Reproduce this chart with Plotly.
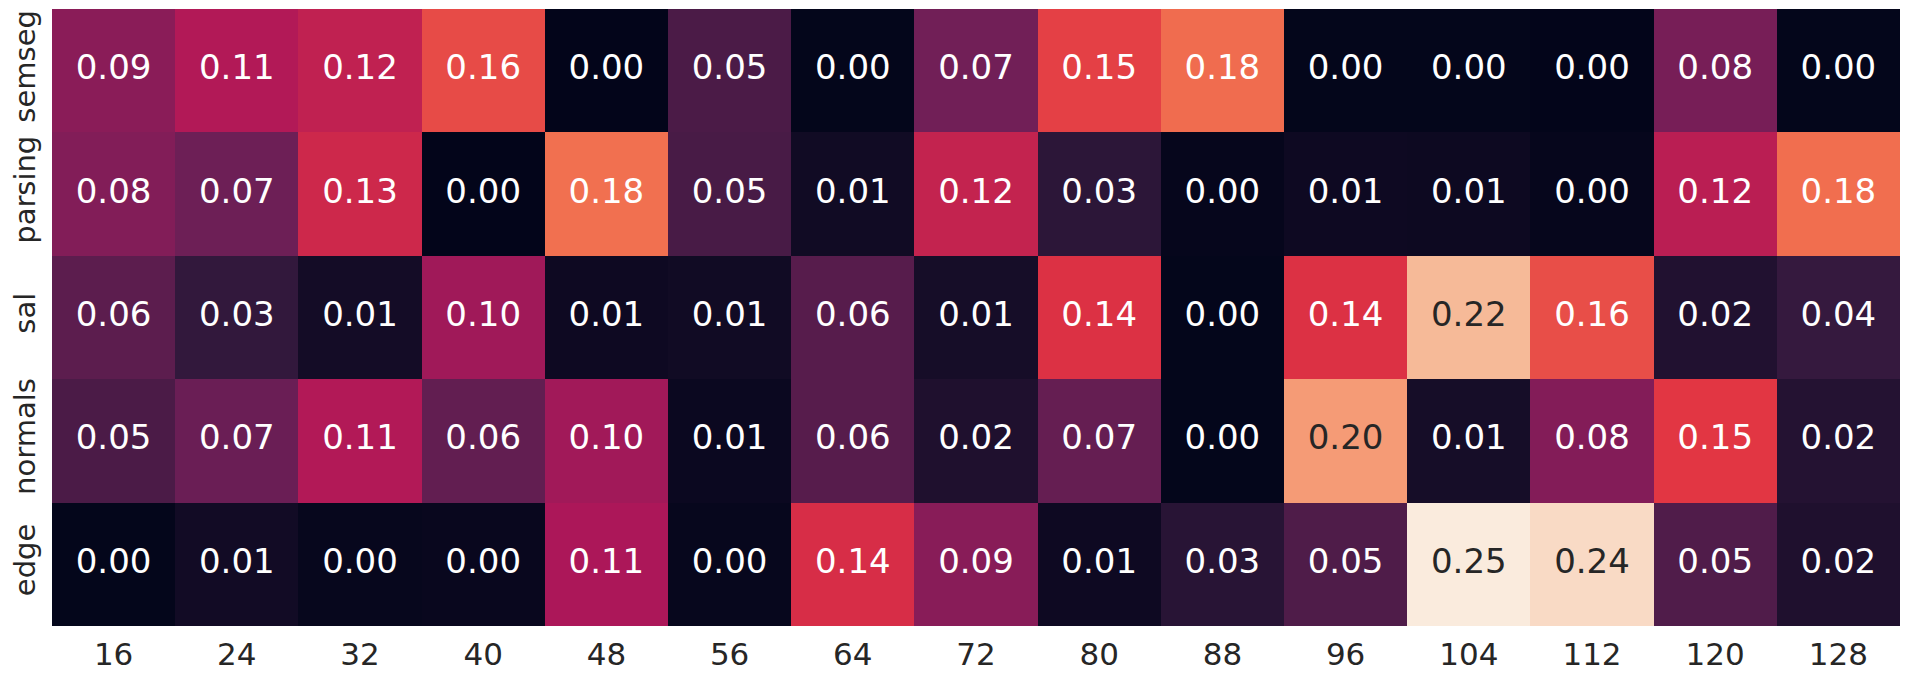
import plotly.graph_objects as go

# dati
colonne = ["16", "24", "32", "40", "48", "56", "64", "72", "80", "88", "96", "104", "112", "120", "128"]
righe = ["semseg", "parsing", "sal", "normals", "edge"]

semseg = [0.088, 0.112, 0.122, 0.158, 0.000, 0.050, 0.001, 0.073, 0.152, 0.176, 0.001, 0.001, 0.000, 0.077, 0.001]
parsing = [0.083, 0.071, 0.131, 0.000, 0.178, 0.048, 0.010, 0.124, 0.030, 0.002, 0.008, 0.007, 0.002, 0.118, 0.177]
sal = [0.060, 0.034, 0.012, 0.101, 0.008, 0.010, 0.057, 0.014, 0.142, 0.001, 0.142, 0.222, 0.160, 0.022, 0.036]
normals = [0.050, 0.069, 0.112, 0.064, 0.102, 0.006, 0.057, 0.020, 0.066, 0.001, 0.203, 0.014, 0.084, 0.147, 0.024]
edge = [0.001, 0.011, 0.003, 0.004, 0.108, 0.003, 0.138, 0.087, 0.008, 0.027, 0.052, 0.254, 0.243, 0.053, 0.020]

matrice = [semseg, parsing, sal, normals, edge]

# colormap "rocket" di seaborn (approssimata)
rocket = [
    [0.0, "#03051a"],
    [1 / 7, "#35193e"],
    [2 / 7, "#701f57"],
    [3 / 7, "#ad1759"],
    [4 / 7, "#e13342"],
    [5 / 7, "#f37651"],
    [6 / 7, "#f6b48f"],
    [1.0, "#faebdd"],
]

vmin = min(min(r) for r in matrice)
vmax = max(max(r) for r in matrice)

fig = go.Figure()
fig.add_trace(go.Heatmap(
    z=matrice, x=colonne, y=righe,
    colorscale=rocket, zmin=vmin, zmax=vmax,
    showscale=False, hoverinfo="skip",
))

# etichette nelle celle: bianche su sfondo scuro, grigio scuro su sfondo chiaro
xs, ys, testi, colori = [], [], [], []
for riga, valori in zip(righe, matrice):
    for col, v in zip(colonne, valori):
        xs.append(col)
        ys.append(riga)
        testi.append("%.2f" % v)
        colori.append("#262626" if (v - vmin) / (vmax - vmin) > 0.78 else "white")

fig.add_trace(go.Scatter(
    x=xs, y=ys, text=testi, mode="text",
    textfont=dict(size=34, color=colori, family="DejaVu Sans"),
    hoverinfo="skip", showlegend=False,
))

# la pagina ha 8px di margine sul body: figura un po' più piccola della finestra
fig.update_layout(
    width=1902, height=670,
    margin=dict(l=44, r=10, t=1, b=52),
    paper_bgcolor="white", plot_bgcolor="white",
    font=dict(family="DejaVu Sans", color="#262626", size=31),
    showlegend=False,
)
# range fisso: le celle occupano tutta l'area del grafico
fig.update_xaxes(type="category", range=[-0.5, len(colonne) - 0.5], showgrid=False, zeroline=False,
                 ticks="", automargin=False, tickfont=dict(size=31), ticklabelstandoff=7)
fig.update_yaxes(type="category", range=[len(righe) - 0.5, -0.5], showgrid=False, zeroline=False,
                 ticks="", tickangle=-90, automargin=False, tickfont=dict(size=29),
                 ticklabelstandoff=10)

fig.write_html("out.html")
